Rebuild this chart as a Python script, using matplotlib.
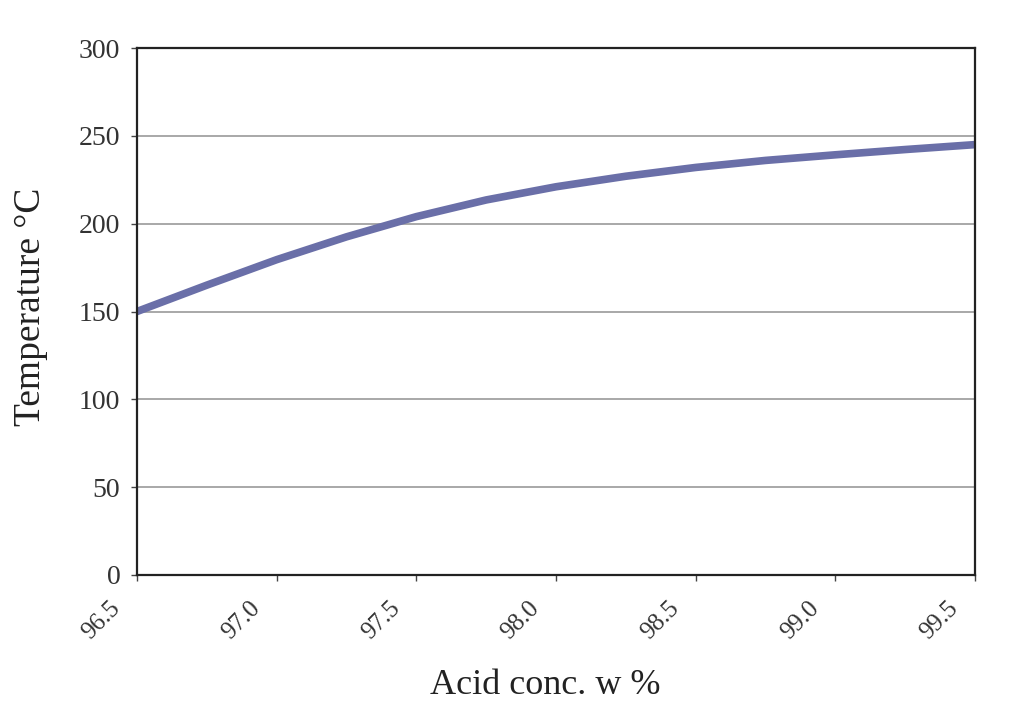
import numpy as np
import matplotlib.pyplot as plt
from matplotlib.transforms import ScaledTranslation

# Werte
acid_conc = [96.5, 96.75, 97.0, 97.25, 97.5, 97.75, 98.0, 98.25, 98.5, 98.75, 99.0, 99.25, 99.5]
temperature = [150, 165, 179.5, 192.5, 204, 213.5, 221, 227, 232, 236, 239.2, 242.2, 245]

x_ticks = [96.5, 97.0, 97.5, 98.0, 98.5, 99.0, 99.5]
y_ticks = [0, 50, 100, 150, 200, 250, 300]

plt.rcParams['font.family'] = ['Liberation Serif', 'DejaVu Serif']

fig = plt.figure(figsize=(10.26, 7.2), dpi=100)
ax = fig.add_axes([137 / 1026, 1 - 575 / 720, (975 - 137) / 1026, (575 - 48) / 720])

ax.plot(acid_conc, temperature, color='#6a6fa8', lw=5.5,
        solid_capstyle='round', solid_joinstyle='round')

ax.set_xlim(96.5, 99.5)
ax.set_ylim(0, 300)
ax.set_xticks(x_ticks)
ax.set_xticklabels([f"{v:.1f}" for v in x_ticks], rotation=45, ha='right', va='top',
                   fontsize=18, color='#333333')
ax.set_yticks(y_ticks)
ax.set_yticklabels([str(v) for v in y_ticks], fontsize=20, color='#333333')
ax.yaxis.grid(True, color='#999999', lw=1.2)
ax.set_axisbelow(True)
ax.tick_params(axis='both', length=4, width=1, color='#444444')
ax.tick_params(axis='x', pad=12)
ax.tick_params(axis='y', pad=8)
for s in ax.spines.values():
    s.set_color('#222222')
    s.set_linewidth(1.6)

# Beschriftungen etwas nach links schieben (nach tick_params, sonst zurückgesetzt)
shift = ScaledTranslation(-12 / 100, 0, fig.dpi_scale_trans)
for lbl in ax.get_xticklabels():
    lbl.set_transform(lbl.get_transform() + shift)

ax.set_xlabel("Acid conc. w %", fontsize=26, color='#222222')
ax.set_ylabel("Temperature °C", fontsize=27, color='#222222')
ax.xaxis.set_label_coords(0.487, -0.178)
ax.yaxis.set_label_coords(-0.106, 0.508)

fig.savefig("out.png", dpi=100)
